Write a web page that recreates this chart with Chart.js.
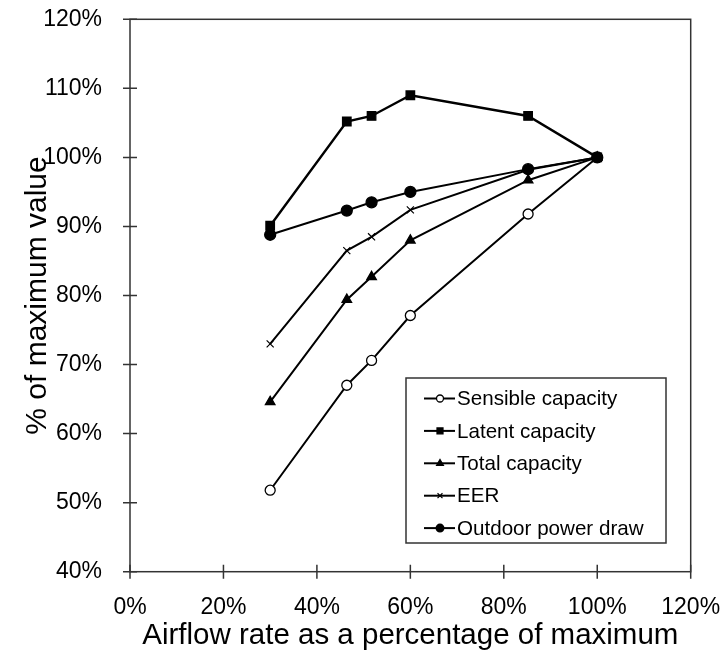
<!DOCTYPE html>
<html>
<head>
<meta charset="utf-8">
<script src="https://cdn.jsdelivr.net/npm/chart.js@4/dist/chart.umd.min.js"></script>
<style>
  html, body { margin: 0; padding: 0; background: #fff; }
  #wrap { width: 722px; height: 654px; }
</style>
</head>
<body>
<div id="wrap"><canvas id="airflowChart" width="722" height="654"></canvas></div>
<script>
// airflow as % of maximum (x)
const airflow = [30, 46.4, 51.7, 60, 85.2, 100];

// % of maximum value for each series
const sensible = [51.8, 67.0, 70.6, 77.1, 91.8, 100];
const latent = [90.1, 105.2, 106.0, 109.0, 106.0, 100];
const total = [64.6, 79.4, 82.7, 88.0, 96.7, 100];
const eer = [73.0, 86.5, 88.5, 92.4, 98.2, 100];
const outdoor = [88.8, 92.3, 93.5, 95.0, 98.3, 100];

const xTicks = [0, 20, 40, 60, 80, 100, 120];
const yTicks = [40, 50, 60, 70, 80, 90, 100, 110, 120];

const FONT = "'Liberation Sans', Arial, Helvetica, sans-serif";

function toPoints(ys) {
  return ys.map((y, i) => ({ x: airflow[i], y: y }));
}

function makeSet(label, ys, style, fill, radius, order, width) {
  return {
    label: label,
    data: toPoints(ys),
    showLine: true,
    borderColor: "#000",
    borderWidth: width || 2,
    pointStyle: style,
    pointRadius: radius,
    pointBackgroundColor: fill,
    pointBorderColor: "#000",
    pointBorderWidth: style === "crossRot" ? 1.2 : 1.3,
    order: order
  };
}

// legend drawn inside the plot, like the original
const insideLegend = {
  id: "insideLegend",
  afterDatasetsDraw(chart) {
    const c = chart.ctx;
    const bx = 406, by = 378, bw = 260, bh = 165;
    c.save();
    c.fillStyle = "#fff";
    c.fillRect(bx, by, bw, bh);
    c.strokeStyle = "#333";
    c.lineWidth = 1.5;
    c.strokeRect(bx, by, bw, bh);
    c.font = "20.6px " + FONT;
    c.textBaseline = "middle";
    c.textAlign = "left";
    [0, 1, 2, 3, 4].forEach(i => {
      const ds = chart.data.datasets[i];
      const y = 398.5 + i * 32.4;
      c.strokeStyle = "#000";
      c.lineWidth = 2;
      c.beginPath();
      c.moveTo(424, y);
      c.lineTo(455, y);
      c.stroke();
      c.fillStyle = ds.pointBackgroundColor;
      c.strokeStyle = "#000";
      c.lineWidth = ds.pointBorderWidth;
      Chart.helpers.drawPoint(c, {
        pointStyle: ds.pointStyle,
        radius: ds.pointRadius * 0.7,
        rotation: 0,
        borderWidth: ds.pointBorderWidth
      }, 440, y);
      c.fillStyle = "#000";
      c.fillText(ds.label, 457, y + 1);
    });
    c.restore();
  }
};

// box frame and ticks that cross the axis lines
const frameTicks = {
  id: "frameTicks",
  afterDraw(chart) {
    const c = chart.ctx;
    const a = chart.chartArea;
    const xs = chart.scales.x, ys = chart.scales.y;
    c.save();
    c.strokeStyle = "#333";
    c.lineWidth = 1.5;
    c.strokeRect(a.left, a.top, a.right - a.left, a.bottom - a.top);
    c.beginPath();
    xTicks.forEach(v => {
      const px = xs.getPixelForValue(v);
      c.moveTo(px, a.bottom - 7);
      c.lineTo(px, a.bottom + 7);
    });
    yTicks.forEach(v => {
      const py = ys.getPixelForValue(v);
      c.moveTo(a.left - 7, py);
      c.lineTo(a.left + 7, py);
    });
    c.stroke();
    c.restore();
  }
};

new Chart(document.getElementById("airflowChart"), {
  type: "scatter",
  data: {
    datasets: [
      makeSet("Sensible capacity", sensible, "circle", "#fff", 5, 4),
      makeSet("Latent capacity", latent, "rect", "#000", 6, 3, 2.4),
      makeSet("Total capacity", total, "triangle", "#000", 5.5, 2),
      makeSet("EER", eer, "crossRot", "#000", 5, 1),
      makeSet("Outdoor power draw", outdoor, "circle", "#000", 5.5, 0)
    ]
  },
  options: {
    responsive: false,
    animation: false,
    layout: { padding: { left: 20, right: 31.3, top: 19.3, bottom: 0 } },
    plugins: {
      legend: { display: false },
      tooltip: { enabled: false }
    },
    scales: {
      x: {
        type: "linear",
        min: 0,
        max: 120,
        afterBuildTicks(scale) {
          scale.ticks = xTicks.map(v => ({ value: v }));
        },
        afterFit(scale) {
          scale.height = 82.3;
          scale.paddingLeft = 0;
          scale.paddingRight = 0;
        },
        grid: { display: false, drawOnChartArea: false },
        border: { display: false },
        ticks: {
          color: "#000",
          font: { family: FONT, size: 23 },
          padding: 14,
          maxRotation: 0,
          callback: v => v + "%"
        },
        title: {
          display: true,
          text: "Airflow rate as a percentage of maximum",
          color: "#000",
          font: { family: FONT, size: 29.5 },
          padding: { top: 0, bottom: 0 }
        }
      },
      y: {
        type: "linear",
        min: 40,
        max: 120,
        afterBuildTicks(scale) {
          scale.ticks = yTicks.map(v => ({ value: v }));
        },
        afterFit(scale) {
          scale.width = 110;
          scale.paddingTop = 0;
          scale.paddingBottom = 0;
        },
        grid: { display: false, drawOnChartArea: false },
        border: { display: false },
        ticks: {
          color: "#000",
          font: { family: FONT, size: 23 },
          padding: 20,
          callback: v => v + "%"
        },
        title: {
          display: true,
          text: "% of maximum value",
          color: "#000",
          font: { family: FONT, size: 30 },
          padding: { top: 0, bottom: 0 }
        }
      }
    }
  },
  plugins: [insideLegend, frameTicks]
});
</script>
</body>
</html>
